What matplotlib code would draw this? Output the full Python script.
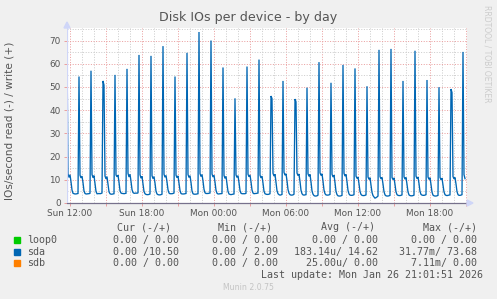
import numpy as np
import matplotlib
matplotlib.use("Agg")
import matplotlib.pyplot as plt
from matplotlib.patches import Rectangle, Polygon

# sda write IOs/s, one row per hour, 5 minute samples (read side is ~0)
sda_rows = [
    [66.4, 12.6, 11.0, 12.2, 9.2, 5.6, 4.2, 4.0, 3.9, 3.9, 4.0, 4.1],
    [54.5, 12.0, 10.8, 11.6, 8.8, 5.2, 4.1, 3.9, 3.9, 4.0, 4.0, 4.2],
    [57.0, 12.3, 10.9, 11.8, 8.5, 5.0, 4.0, 4.0, 4.1, 4.0, 4.1, 4.3],
    [52.6, 50.8, 11.6, 10.4, 11.4, 8.0, 4.8, 4.0, 3.8, 3.8, 3.9, 4.0],
    [55.2, 12.1, 11.3, 12.0, 9.0, 5.3, 4.3, 4.1, 4.1, 4.0, 4.1, 4.2],
    [57.8, 12.8, 11.2, 12.4, 9.4, 5.8, 4.5, 4.2, 4.2, 4.3, 4.2, 4.4],
    [63.8, 12.2, 10.7, 11.5, 8.4, 5.0, 4.0, 3.7, 3.6, 3.6, 3.7, 3.9],
    [63.4, 11.8, 10.5, 11.4, 8.6, 5.1, 3.9, 3.6, 3.5, 3.5, 3.6, 3.8],
    [67.6, 12.4, 11.1, 11.9, 9.1, 5.7, 4.3, 4.0, 4.0, 4.0, 4.1, 4.3],
    [54.5, 12.0, 10.9, 11.7, 8.7, 5.4, 4.1, 3.9, 3.9, 3.9, 4.0, 4.1],
    [64.7, 12.3, 11.0, 11.8, 8.9, 5.2, 4.0, 3.8, 3.8, 3.8, 3.9, 4.0],
    [73.68, 12.7, 11.4, 12.3, 9.5, 5.9, 4.4, 4.1, 4.1, 4.1, 4.2, 4.3],
    [70.0, 12.5, 11.2, 12.0, 9.0, 5.5, 4.2, 3.9, 3.9, 4.0, 4.0, 4.1],
    [58.4, 11.9, 10.6, 11.5, 8.4, 5.0, 3.9, 3.7, 3.6, 3.7, 3.8, 3.9],
    [45.1, 12.1, 11.0, 11.8, 8.8, 5.4, 4.2, 4.0, 4.0, 4.0, 4.0, 4.2],
    [58.8, 12.4, 11.3, 12.1, 9.2, 5.6, 4.3, 4.0, 4.1, 4.1, 4.2, 4.3],
    [61.8, 12.0, 10.8, 11.6, 8.6, 5.1, 4.0, 3.8, 3.7, 3.7, 3.8, 4.0],
    [46.1, 45.0, 12.8, 11.6, 12.4, 9.0, 5.3, 4.0, 3.6, 3.4, 3.5, 3.7],
    [52.6, 13.2, 12.0, 12.6, 9.6, 5.8, 4.2, 3.6, 3.4, 3.4, 3.5, 3.8],
    [44.8, 43.6, 12.9, 11.8, 12.5, 9.3, 5.5, 4.0, 3.5, 3.4, 3.5, 3.6],
    [49.7, 12.6, 11.5, 12.3, 9.1, 5.2, 3.8, 3.2, 3.0, 3.0, 3.1, 3.4],
    [60.7, 13.0, 11.9, 12.6, 9.4, 5.6, 4.0, 3.5, 3.4, 3.4, 3.5, 3.7],
    [51.8, 12.4, 11.2, 12.0, 8.8, 5.0, 3.6, 3.1, 3.0, 3.0, 3.1, 3.3],
    [59.5, 12.8, 11.6, 12.3, 9.2, 5.4, 3.9, 3.4, 3.3, 3.3, 3.4, 3.6],
    [58.0, 11.6, 10.6, 11.2, 8.3, 5.0, 3.7, 3.3, 3.2, 3.2, 3.3, 3.5],
    [50.3, 11.2, 10.2, 10.9, 7.8, 4.6, 3.2, 2.6, 2.1, 2.3, 2.6, 3.0],
    [66.0, 11.4, 10.4, 11.0, 8.2, 4.9, 3.5, 3.1, 3.0, 3.0, 3.1, 3.3],
    [66.4, 11.0, 10.1, 10.8, 8.0, 4.8, 3.6, 3.3, 3.2, 3.2, 3.3, 3.5],
    [52.6, 11.3, 10.3, 11.0, 8.1, 4.8, 3.5, 3.2, 3.1, 3.1, 3.2, 3.4],
    [65.6, 11.6, 10.5, 11.2, 8.4, 5.0, 3.7, 3.4, 3.3, 3.3, 3.4, 3.6],
    [53.0, 11.2, 10.2, 10.9, 8.0, 4.7, 3.4, 3.1, 3.0, 3.0, 3.1, 3.3],
    [49.9, 11.0, 10.0, 10.7, 7.9, 4.8, 3.6, 3.3, 3.2, 3.3, 3.4, 3.5],
    [49.1, 47.6, 11.4, 10.4, 11.0, 8.2, 4.9, 3.6, 3.3, 3.3, 3.4, 3.6],
    [65.1, 12.2, 10.5],
]
start_hour = -0.25          # hours relative to Sun 12:00
step_hours = 5 / 60

x_ticks = [0, 6, 12, 18, 24, 30]
x_labels = ["Sun 12:00", "Sun 18:00", "Mon 00:00", "Mon 06:00", "Mon 12:00", "Mon 18:00"]
y_ticks = [0, 10, 20, 30, 40, 50, 60, 70]

devices = ["loop0", "sda", "sdb"]
dev_colors = ["#00CC00", "#0066B3", "#FF8000"]
cur_vals = ["0.00 / 0.00", "0.00 /10.50", "0.00 / 0.00"]
min_vals = ["0.00 / 0.00", "0.00 / 2.09", "0.00 / 0.00"]
avg_vals = ["0.00 / 0.00", "183.14u/ 14.62", "25.00u/ 0.00"]
max_vals = ["0.00 / 0.00", "31.77m/ 73.68", "7.11m/ 0.00"]

W, H = 497, 299
FONT = "#555555"


def fx(x):
    return x / W


def fy(y):
    return 1 - y / H


sda = np.concatenate([np.array(r, dtype=float) for r in sda_rows])
t = start_hour + np.arange(len(sda)) * step_hours

fig = plt.figure(figsize=(W / 100, H / 100), dpi=100, facecolor="#F0F0F0")
L, R, T, B = 67, 467, 28, 203
ax = fig.add_axes([fx(L), fy(B), (R - L) / W, (B - T) / H])
ax.set_facecolor("white")
ax.set_xlim(-0.25, -0.25 + (R - L) / 12)
ax.set_ylim(0, 75.4)
for s in ax.spines.values():
    s.set_visible(False)

# grid
for h in range(0, 34):
    major = h % 3 == 0
    ax.axvline(h, color="#eaa0a0" if major else "#cdcdcd", lw=0.72,
               ls=(0, (1, 1.6)), zorder=1)
for v in range(5, 76, 5):
    major = v % 10 == 0
    ax.axhline(v, color="#eaa0a0" if major else "#cdcdcd", lw=0.72,
               ls=(0, (1, 1.6)), zorder=1)

ax.plot(t, sda, color=dev_colors[1], lw=0.95, zorder=3, solid_joinstyle="miter")

# axes lines and arrows
ax.axhline(0, color="#77718c", lw=0.9, zorder=4, clip_on=False)
ax.axvline(-0.25, color="#CFD6F8", lw=0.9, zorder=4)
fig.patches.append(Polygon([[fx(L - 3), fy(T)], [fx(L + 3), fy(T)], [fx(L), fy(T - 6)]],
                           closed=True, color="#CFD6F8", transform=fig.transFigure))
fig.patches.append(Polygon([[fx(R), fy(B - 3)], [fx(R), fy(B + 3)], [fx(R + 6), fy(B)]],
                           closed=True, color="#CFD6F8", transform=fig.transFigure))

ax.set_xticks(range(0, 34, 3))
ax.set_xticklabels([x_labels[x_ticks.index(h)] if h in x_ticks else "" for h in range(0, 34, 3)])
ax.set_yticks(y_ticks)
ax.set_yticklabels([str(v) for v in y_ticks])
ax.tick_params(axis="x", length=2, width=0.7, color="#eaa0a0", pad=2.5,
               labelsize=6.4, labelcolor=FONT)
ax.tick_params(axis="y", length=2, width=0.7, color="#eaa0a0", pad=2.5,
               labelsize=6.4, labelcolor=FONT)

fig.text(fx(248.5), fy(18), "Disk IOs per device - by day", ha="center", va="center",
         fontsize=9.1, color=FONT)
fig.text(fx(10), fy(121), "IOs/second read (-) / write (+)", rotation=90,
         ha="center", va="center", fontsize=7.6, color=FONT)
fig.text(fx(487), fy(5), "RRDTOOL / TOBI OETIKER", rotation=270, ha="center", va="top",
         fontsize=5.5, color="#cccccc")

# legend block
mono = dict(family="DejaVu Sans Mono", fontsize=7.2, color=FONT, va="center")
for head, left in zip(["Cur (-/+)", "Min (-/+)", "Avg (-/+)", "Max (-/+)"], [116.7, 218, 321, 423]):
    fig.text(fx(left), fy(227.3), head, ha="left", **mono)
rows_y = [240, 252, 263.3]
for i, dev in enumerate(devices):
    y = rows_y[i]
    fig.patches.append(Rectangle((fx(14), fy(y + 3)), 6 / W, 6 / H, color=dev_colors[i],
                                 transform=fig.transFigure))
    fig.text(fx(26.7), fy(y), dev, ha="left", **mono)
    for vals, right in zip([cur_vals, min_vals, avg_vals, max_vals], [179, 278, 378, 477]):
        fig.text(fx(right), fy(y), vals[i], ha="right", **mono)
fig.text(fx(483), fy(275.3), "Last update: Mon Jan 26 21:01:51 2026", ha="right", **mono)
fig.text(fx(248), fy(288), "Munin 2.0.75", ha="center", va="center", fontsize=5.6, color="#c4c4c4")

fig.savefig("out.png", dpi=100, facecolor=fig.get_facecolor())
